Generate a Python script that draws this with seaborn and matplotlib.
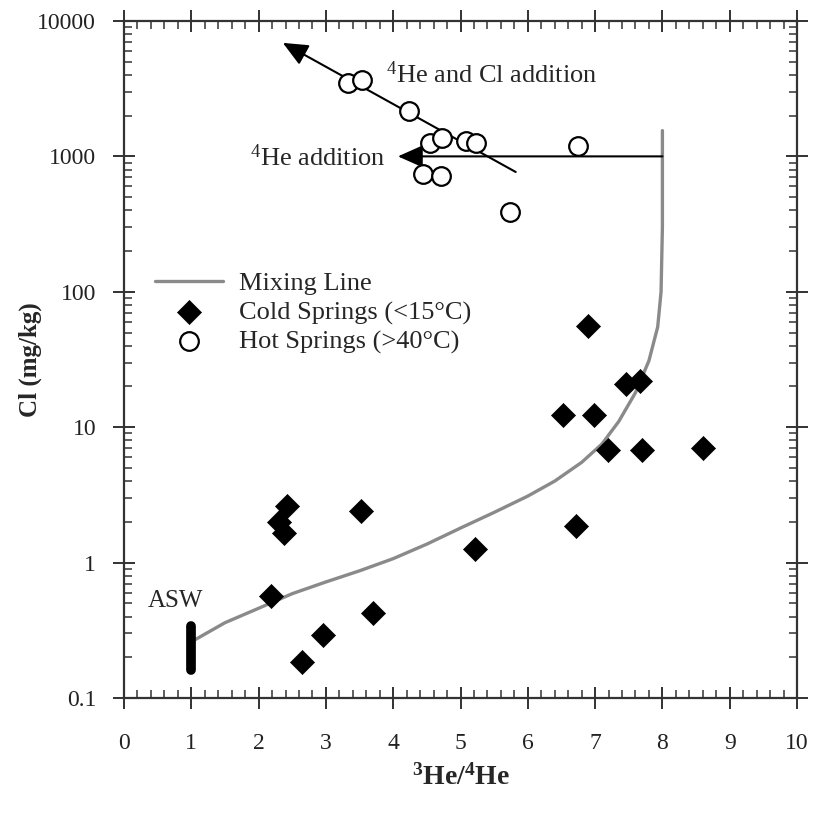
import numpy as np
import pandas as pd
import matplotlib
matplotlib.use("Agg")
import matplotlib.pyplot as plt
import seaborn as sns
from matplotlib.ticker import FixedLocator, LogLocator, NullFormatter

# Cold springs (<15 C): 3He/4He vs Cl
cold_he = [2.19, 2.42, 2.30, 2.38, 3.52, 2.65, 2.96, 3.70, 5.22, 6.72,
           6.53, 6.98, 7.19, 7.70, 8.60, 7.46, 7.66, 6.90]
cold_cl = [0.565, 2.6, 2.0, 1.65, 2.4, 0.183, 0.291, 0.425, 1.25, 1.85,
           12.3, 12.3, 6.8, 6.8, 7.0, 20.8, 21.8, 56]

# Hot springs (>40 C)
hot_he = [3.33, 3.54, 4.23, 4.55, 4.72, 5.08, 5.23, 6.75, 4.44, 4.71, 5.74]
hot_cl = [3480, 3660, 2160, 1256, 1370, 1300, 1256, 1195, 741, 718, 388]

# Mixing line ASW -> mantle
mix_he = [1.0, 1.5, 2.0, 2.5, 3.0, 3.5, 4.0, 4.5, 5.0, 5.5, 6.0, 6.4, 6.8,
          7.1, 7.35, 7.6, 7.8, 7.93, 7.98, 8.0, 8.0]
mix_cl = [0.26, 0.36, 0.46, 0.59, 0.72, 0.87, 1.07, 1.37, 1.8, 2.35, 3.1,
          4.0, 5.5, 7.5, 11, 18, 31, 55, 100, 300, 1550]

# ASW bar and arrows
asw_he = [1.0, 1.0]
asw_cl = [0.16, 0.34]
arrow_cl_add = [(5.82, 767), (2.36, 6890)]
arrow_he_add = [(8.0, 1000), (4.07, 1000)]

x_ticks = list(range(11))
y_ticks = [0.1, 1, 10, 100, 1000, 10000]
y_labels = ['0.1', '1', '10', '100', '1000', '10000']

sns.set_style("ticks")
plt.rcParams['font.family'] = ['Liberation Serif', 'DejaVu Serif']
plt.rcParams['mathtext.fontset'] = 'custom'
plt.rcParams['mathtext.rm'] = 'Liberation Serif'
plt.rcParams['mathtext.it'] = 'Liberation Serif:italic'
plt.rcParams['mathtext.bf'] = 'Liberation Serif:bold'

fig = plt.figure(figsize=(8.29, 8.19), dpi=100)
ax = fig.add_axes([0.1496, 0.1477, 0.8118, 0.8267])

mix_df = pd.DataFrame({'he': mix_he, 'cl': mix_cl})
sns.lineplot(data=mix_df, x='he', y='cl', ax=ax, color='#8a8a8a', lw=2.4,
             estimator=None, sort=False, label='Mixing Line', zorder=2)

ax.plot(asw_he, asw_cl, color='black', lw=7, solid_capstyle='round', zorder=3)

for (x0, y0), (x1, y1) in [arrow_cl_add, arrow_he_add]:
    ax.annotate('', xy=(x1, y1), xytext=(x0, y0),
                arrowprops=dict(arrowstyle='-|>,head_length=0.45,head_width=0.2',
                                color='black', lw=1.5, mutation_scale=34,
                                shrinkA=0, shrinkB=0), zorder=3)

cold_df = pd.DataFrame({'he': cold_he, 'cl': cold_cl})
sns.scatterplot(data=cold_df, x='he', y='cl', ax=ax, marker='D', s=150,
                color='black', edgecolor='black', linewidth=0.5,
                label='Cold Springs (<15°C)', zorder=4)

hot_df = pd.DataFrame({'he': hot_he, 'cl': hot_cl})
sns.scatterplot(data=hot_df, x='he', y='cl', ax=ax, marker='o', s=180,
                facecolor='white', edgecolor='black', linewidth=1.6,
                label='Hot Springs (>40°C)', zorder=5)

ax.set_yscale('log')
ax.set_xlim(0, 10)
ax.set_ylim(0.1, 10000)

ax.xaxis.set_major_locator(FixedLocator(x_ticks))
ax.xaxis.set_minor_locator(FixedLocator(np.arange(0, 10.01, 0.2)))
ax.set_xticklabels([str(i) for i in x_ticks])
ax.yaxis.set_major_locator(FixedLocator(y_ticks))
ax.yaxis.set_minor_locator(LogLocator(base=10, subs=np.arange(2, 10)))
ax.yaxis.set_minor_formatter(NullFormatter())
ax.set_yticklabels(y_labels)

ax.tick_params(which='major', direction='inout', length=16, width=1.3,
               top=True, right=True, labelsize=17, colors='#222222')
ax.tick_params(axis='x', which='major', pad=17)
ax.tick_params(axis='y', which='major', pad=12)
ax.tick_params(which='minor', direction='in', length=6, width=1.1,
               top=True, right=True, colors='#333333')
for sp in ax.spines.values():
    sp.set_linewidth(1.6)
    sp.set_color('#333333')

ax.set_xlabel(r'$\mathbf{^3He/^4He}$', fontsize=20)
ax.xaxis.set_label_coords(0.5, -0.098)
ax.set_ylabel('Cl (mg/kg)', fontsize=18, fontweight='bold')
ax.yaxis.set_label_coords(-0.122, 0.5)

ax.text(3.89, 3990, r'$^4$He and Cl addition', fontsize=19, va='center', ha='left')
ax.text(3.89, 975, r'$^4$He addition', fontsize=19, va='center', ha='right')
ax.text(0.76, 0.52, 'ASW', fontsize=18, va='center', ha='center')

ax.legend(loc='upper left', bbox_to_anchor=(0.03, 0.645), frameon=False,
          fontsize=19, handlelength=2.6, handletextpad=0.6, labelspacing=0.2,
          borderaxespad=0)

fig.savefig('out.png', dpi=100)
